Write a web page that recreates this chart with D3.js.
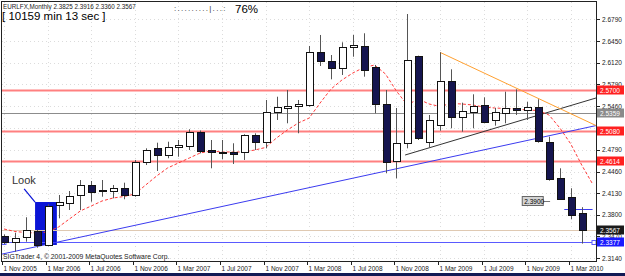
<!doctype html>
<html lang="en">
<head>
<meta charset="utf-8">
<title>EURLFX, Monthly</title>
<script src="https://cdn.jsdelivr.net/npm/d3@7"></script>
<style>
  body { margin: 0; background: #fff; }
  svg { display: block; font-family: "Liberation Sans", Arial, sans-serif; }
</style>
</head>
<body>
<div id="chart"></div>
<script>
// monthly bars, Nov 2005 .. Apr 2010
var months = ["Nov 2005","Dec 2005","Jan 2006","Feb 2006","Mar 2006","Apr 2006","May 2006","Jun 2006",
  "Jul 2006","Aug 2006","Sep 2006","Oct 2006","Nov 2006","Dec 2006","Jan 2007","Feb 2007","Mar 2007",
  "Apr 2007","May 2007","Jun 2007","Jul 2007","Aug 2007","Sep 2007","Oct 2007","Nov 2007","Dec 2007",
  "Jan 2008","Feb 2008","Mar 2008","Apr 2008","May 2008","Jun 2008","Jul 2008","Aug 2008","Sep 2008",
  "Oct 2008","Nov 2008","Dec 2008","Jan 2009","Feb 2009","Mar 2009","Apr 2009","May 2009","Jun 2009",
  "Jul 2009","Aug 2009","Sep 2009","Oct 2009","Nov 2009","Dec 2009","Jan 2010","Feb 2010","Mar 2010","Apr 2010"];

var open  = [2.3476,2.3389,2.3456,2.3557,2.3339,2.3945,2.3985,2.4098,2.4250,2.4174,2.4163,2.4205,2.4102,2.4602,
  2.4815,2.4708,2.4840,2.4851,2.5060,2.4789,2.4763,2.4763,2.4763,2.5019,2.4907,2.5365,2.5435,2.5451,2.5477,
  2.6281,2.6149,2.6037,2.6358,2.6382,2.6052,2.5492,2.4611,2.4892,2.6225,2.4916,2.5182,2.5848,2.5298,2.5365,
  2.5472,2.5248,2.5350,2.5426,2.5400,2.5442,2.4916,2.4357,2.4067,2.3825];
var high  = [2.3500,2.3526,2.3762,2.3570,2.3960,2.4102,2.4163,2.4331,2.4316,2.4331,2.4255,2.4290,2.4637,2.4815,
  2.4901,2.4916,2.4942,2.5106,2.5087,2.4942,2.4942,2.4892,2.5030,2.5044,2.5553,2.5603,2.5706,2.5553,2.6378,
  2.6546,2.6240,2.6434,2.6546,2.6572,2.6088,2.5706,2.5431,2.6866,2.6230,2.5324,2.6281,2.6022,2.5512,2.5640,
  2.5594,2.5431,2.5680,2.5716,2.5527,2.5564,2.4992,2.4510,2.4205,2.3916];
var low   = [2.3350,2.3236,2.3389,2.3297,2.3320,2.3746,2.3873,2.3873,2.4000,2.4076,2.4052,2.4037,2.4076,2.4560,
  2.4469,2.4663,2.4687,2.4789,2.4739,2.4510,2.4647,2.4576,2.4637,2.4789,2.4815,2.5248,2.5197,2.5045,2.5451,
  2.6072,2.5869,2.5935,2.6214,2.5909,2.5350,2.4434,2.4357,2.4815,2.4942,2.4831,2.5084,2.5121,2.5069,2.5121,
  2.5197,2.5161,2.5197,2.5324,2.5248,2.4901,2.4321,2.4026,2.3731,2.3360];
var close = [2.3380,2.3450,2.3568,2.3339,2.3934,2.3991,2.4087,2.4250,2.4148,2.4159,2.4205,2.4102,2.4602,2.4789,
  2.4708,2.4831,2.4866,2.5060,2.4763,2.4763,2.4748,2.4739,2.5019,2.4907,2.5365,2.5442,2.5466,2.5487,2.6281,
  2.6149,2.6037,2.6358,2.6393,2.6011,2.5487,2.4611,2.4892,2.6164,2.4968,2.5248,2.5848,2.5298,2.5390,2.5461,
  2.5206,2.5365,2.5426,2.5400,2.5442,2.4916,2.4357,2.4037,2.3792,2.3567];

// moving average as drawn (shifted one bar forward, so one extra point)
var ma = [2.3583,2.3545,2.3529,2.3522,2.3537,2.3613,2.3736,2.3858,2.3934,2.4011,2.4056,2.4079,2.4117,2.4255,
  2.4392,2.4514,2.4591,2.4667,2.4744,2.4774,2.4759,2.4759,2.4759,2.4789,2.4828,2.4973,2.5095,2.5202,2.5278,
  2.5507,2.5721,2.5858,2.5965,2.6049,2.6087,2.5950,2.5690,2.5477,2.5568,2.5492,2.5454,2.5500,2.5492,2.5477,
  2.5446,2.5431,2.5423,2.5416,2.5400,2.5393,2.5324,2.5125,2.4881,2.4560,2.4270];

var timeTicks  = [0,4,8,12,16,20,24,28,32,36,40,44,48,52];
var timeLabels = ["1 Nov 2005","1 Mar 2006","1 Jul 2006","1 Nov 2006","1 Mar 2007","1 Jul 2007","1 Nov 2007",
  "1 Mar 2008","1 Jul 2008","1 Nov 2008","1 Mar 2009","1 Jul 2009","1 Nov 2009","1 Mar 2010"];
var priceTicks  = [2.6790,2.6450,2.6120,2.5790,2.5460,2.5130,2.4790,2.4460,2.4130,2.3800,2.3470,2.3140];
var priceLabels = ["2.6790","2.6450","2.6120","2.5790","2.5460","2.5130","2.4790","2.4460","2.4130","2.3800","2.3470","2.3140"];

var redLevels = [2.5700, 2.5080, 2.4614];
var grayLevel = 2.5359;
var bidPrice  = 2.3567;
var blueLevel = 2.3377;
var shortLevel = 2.3890;

// trend lines: [bar index, price]
var blueTrend   = [[0, 2.3206], [53, 2.5115]];
var blackTrend  = [[36.8, 2.4713], [54, 2.5568]];
var orangeTrend = [[40, 2.6281], [54.4, 2.5156]];

// "Look" box around the Mar 2006 bar
var lookBox = {from: 2.85, to: 4.85, top: 2.3995, bottom: 2.3339};
var lookArrow = [[1.85, 2.4194], [2.85, 2.3995]];

var W = 625, H = 276;
var plot = {left: 2, top: 2, right: 596, bottom: 261};

var x = d3.scaleLinear().domain([0, 53]).range([4, 581.7]);
var y = d3.scaleLinear().domain([2.3140, 2.6790]).range([258, 19]);

var svg = d3.select("#chart").append("svg").attr("width", W).attr("height", H);

svg.append("defs").append("clipPath").attr("id", "clip")
  .append("rect").attr("x", plot.left).attr("y", plot.top)
  .attr("width", plot.right - plot.left).attr("height", plot.bottom - plot.top);

var g = svg.append("g").attr("clip-path", "url(#clip)");

// dotted grid
g.selectAll(".hgrid").data(priceTicks).enter().append("line")
  .attr("x1", plot.left).attr("x2", plot.right)
  .attr("y1", function(d) { return Math.round(y(d)) + 0.5; })
  .attr("y2", function(d) { return Math.round(y(d)) + 0.5; })
  .attr("stroke", "#dcdcdc").attr("stroke-dasharray", "1,3");
g.selectAll(".vgrid").data(timeTicks).enter().append("line")
  .attr("x1", function(d) { return Math.round(x(d)) + 0.5; })
  .attr("x2", function(d) { return Math.round(x(d)) + 0.5; })
  .attr("y1", plot.top).attr("y2", plot.bottom)
  .attr("stroke", "#dcdcdc").attr("stroke-dasharray", "1,3");

// look box (filled rectangle object, behind bars)
g.append("rect")
  .attr("x", x(lookBox.from)).attr("y", y(lookBox.top))
  .attr("width", x(lookBox.to) - x(lookBox.from))
  .attr("height", y(lookBox.bottom) - y(lookBox.top))
  .attr("fill", "#0a14d6");

// horizontal levels
function hline(price, color, width) {
  var yy = Math.round(y(price)) + 0.5;
  g.append("line").attr("x1", plot.left).attr("x2", plot.right)
    .attr("y1", yy).attr("y2", yy)
    .attr("stroke", color).attr("stroke-width", width);
}
redLevels.forEach(function(p) { hline(p, "#ff8080", 2); });
hline(grayLevel, "#8c8c8c", 1);
hline(bidPrice, "#dfc9b2", 1);
hline(blueLevel, "#5a5aff", 1);

// small end markers on the blue level
[plot.left + 2, plot.right - 2].forEach(function(px) {
  g.append("rect").attr("x", px - 2).attr("y", Math.round(y(blueLevel)) - 1.5)
    .attr("width", 4).attr("height", 4).attr("fill", "#fff").attr("stroke", "#5a5aff");
});

// trend lines (rays to the right edge)
function priceAt(line, i) {
  var a = line[0], b = line[1];
  return a[1] + (b[1] - a[1]) * (i - a[0]) / (b[0] - a[0]);
}
function trend(line, start, end, color) {
  g.append("line")
    .attr("x1", x(start)).attr("y1", y(priceAt(line, start)))
    .attr("x2", x(end)).attr("y2", y(priceAt(line, end)))
    .attr("stroke", color).attr("stroke-width", 1);
}
trend(blueTrend, -0.5, 54.6, "#3b3bf0");
trend(blackTrend, blackTrend[0][0], 54.6, "#333333");
trend(orangeTrend, orangeTrend[0][0], 54.6, "#ffa030");

// short blue level with its label
g.append("line")
  .attr("x1", x(51.4)).attr("x2", x(54.0))
  .attr("y1", Math.round(y(shortLevel)) + 0.5).attr("y2", Math.round(y(shortLevel)) + 0.5)
  .attr("stroke", "#3b3bf0");
var lblY = Math.round(y(shortLevel)) - 8;
g.append("line").attr("x1", x(49.4)).attr("x2", x(50.1))
  .attr("y1", lblY + 0.5).attr("y2", lblY + 0.5).attr("stroke", "#777");
g.append("rect").attr("x", x(47.5) + 0.5).attr("y", lblY - 4.5)
  .attr("width", 21).attr("height", 9).attr("fill", "#d4d4d4").attr("stroke", "#666");
g.append("text").attr("x", x(47.5) + 2.5).attr("y", lblY + 2.5)
  .attr("font-size", "6.5px").attr("fill", "#000").text("2.3900");

// moving average
g.append("path")
  .datum(ma)
  .attr("d", d3.line().x(function(d, i) { return x(i); }).y(function(d) { return y(d); }))
  .attr("fill", "none").attr("stroke", "#ff3a3a").attr("stroke-width", 1)
  .attr("stroke-dasharray", "3,2");

// candles
var bars = months.map(function(m, i) {
  return {i: i, o: open[i], h: high[i], l: low[i], c: close[i]};
});
var candle = g.selectAll(".candle").data(bars).enter().append("g");
candle.append("line")
  .attr("x1", function(d) { return Math.round(x(d.i)) + 0.5; })
  .attr("x2", function(d) { return Math.round(x(d.i)) + 0.5; })
  .attr("y1", function(d) { return y(d.h); })
  .attr("y2", function(d) { return y(d.l); })
  .attr("stroke", "#555");
candle.append("rect")
  .attr("x", function(d) { return Math.round(x(d.i)) - 3 + 0.5; })
  .attr("width", 7)
  .attr("y", function(d) { return Math.round(y(Math.max(d.o, d.c))) + 0.5; })
  .attr("height", function(d) { return Math.max(1, Math.round(Math.abs(y(d.o) - y(d.c)))); })
  .attr("fill", function(d) { return d.c >= d.o ? "#ffffff" : "#15154f"; })
  .attr("stroke", "#111");

// look annotation
g.append("line")
  .attr("x1", x(lookArrow[0][0])).attr("y1", y(lookArrow[0][1]))
  .attr("x2", x(lookArrow[1][0])).attr("y2", y(lookArrow[1][1]))
  .attr("stroke", "#0a14d6").attr("stroke-width", 1.2);
g.append("text").attr("x", 12).attr("y", y(lookArrow[0][1]) - 5)
  .attr("font-size", "11px").attr("fill", "#333").text("Look");

// frame
svg.append("rect").attr("x", plot.left - 0.5).attr("y", plot.top - 0.5)
  .attr("width", plot.right - plot.left + 1).attr("height", plot.bottom - plot.top + 1)
  .attr("fill", "none").attr("stroke", "#222");

// right price axis (labels fully covered by a price box are not shown, as in the terminal)
var boxPrices = redLevels.concat([grayLevel, bidPrice, blueLevel]);
var shownTicks = priceTicks.filter(function(d) {
  return !boxPrices.some(function(b) { return Math.abs(y(b) - y(d)) < 5; });
});
var axis = svg.append("g");
axis.selectAll(".tk").data(priceTicks).enter().append("line")
  .attr("x1", plot.right + 1).attr("x2", plot.right + 4)
  .attr("y1", function(d) { return Math.round(y(d)) + 0.5; })
  .attr("y2", function(d) { return Math.round(y(d)) + 0.5; })
  .attr("stroke", "#222");
axis.selectAll(".tl").data(shownTicks).enter().append("text")
  .attr("x", plot.right + 6).attr("y", function(d) { return y(d) + 2.5; })
  .attr("font-size", "6.5px").attr("fill", "#222")
  .text(function(d) { return priceLabels[priceTicks.indexOf(d)]; });

// price label boxes
function priceBox(price, bg) {
  var yy = Math.round(y(price));
  axis.append("rect").attr("x", plot.right + 1).attr("y", yy - 4.5)
    .attr("width", W - plot.right - 2).attr("height", 9).attr("fill", bg);
  axis.append("text").attr("x", plot.right + 4).attr("y", yy + 2.5)
    .attr("font-size", "6.5px").attr("fill", "#fff").text(price.toFixed(4));
}
redLevels.forEach(function(p) { priceBox(p, "#ff2020"); });
priceBox(grayLevel, "#8a8a8a");
priceBox(bidPrice, "#1a1a1a");
priceBox(blueLevel, "#1a1aff");

// time axis
svg.selectAll(".tt").data(timeTicks).enter().append("line")
  .attr("x1", function(d) { return Math.round(x(d)) - 1.5; })
  .attr("x2", function(d) { return Math.round(x(d)) - 1.5; })
  .attr("y1", plot.bottom).attr("y2", plot.bottom + 4)
  .attr("stroke", "#222");
svg.selectAll(".tx").data(timeTicks).enter().append("text")
  .attr("x", function(d) { return Math.round(x(d)) - 0.5; })
  .attr("y", 270.5)
  .attr("font-size", "6.5px").attr("fill", "#222")
  .text(function(d, i) { return timeLabels[i]; });

// bottom window strip
svg.append("rect").attr("x", 0).attr("y", 273).attr("width", W).attr("height", 3).attr("fill", "#121a55");

// header texts
svg.append("text").attr("x", 3).attr("y", 9).attr("font-size", "6.3px").attr("fill", "#222")
  .text("EURLFX,Monthly  2.3825 2.3916 2.3360 2.3567");
svg.append("text").attr("x", 2).attr("y", 20).attr("font-size", "11.5px").attr("fill", "#000")
  .text("[ 10159 min 13 sec ]");
svg.append("text").attr("x", 174).attr("y", 11).attr("font-size", "8px").attr("fill", "#333")
  .attr("letter-spacing", "1.3px").text(":.........|...:");
svg.append("text").attr("x", 235).attr("y", 13).attr("font-size", "11.5px").attr("fill", "#000")
  .text("76%");
svg.append("text").attr("x", 3).attr("y", 259).attr("font-size", "6.8px").attr("fill", "#222")
  .text("SIGTrader 4, \u00a9 2001-2009 MetaQuotes Software Corp.");
</script>
</body>
</html>
